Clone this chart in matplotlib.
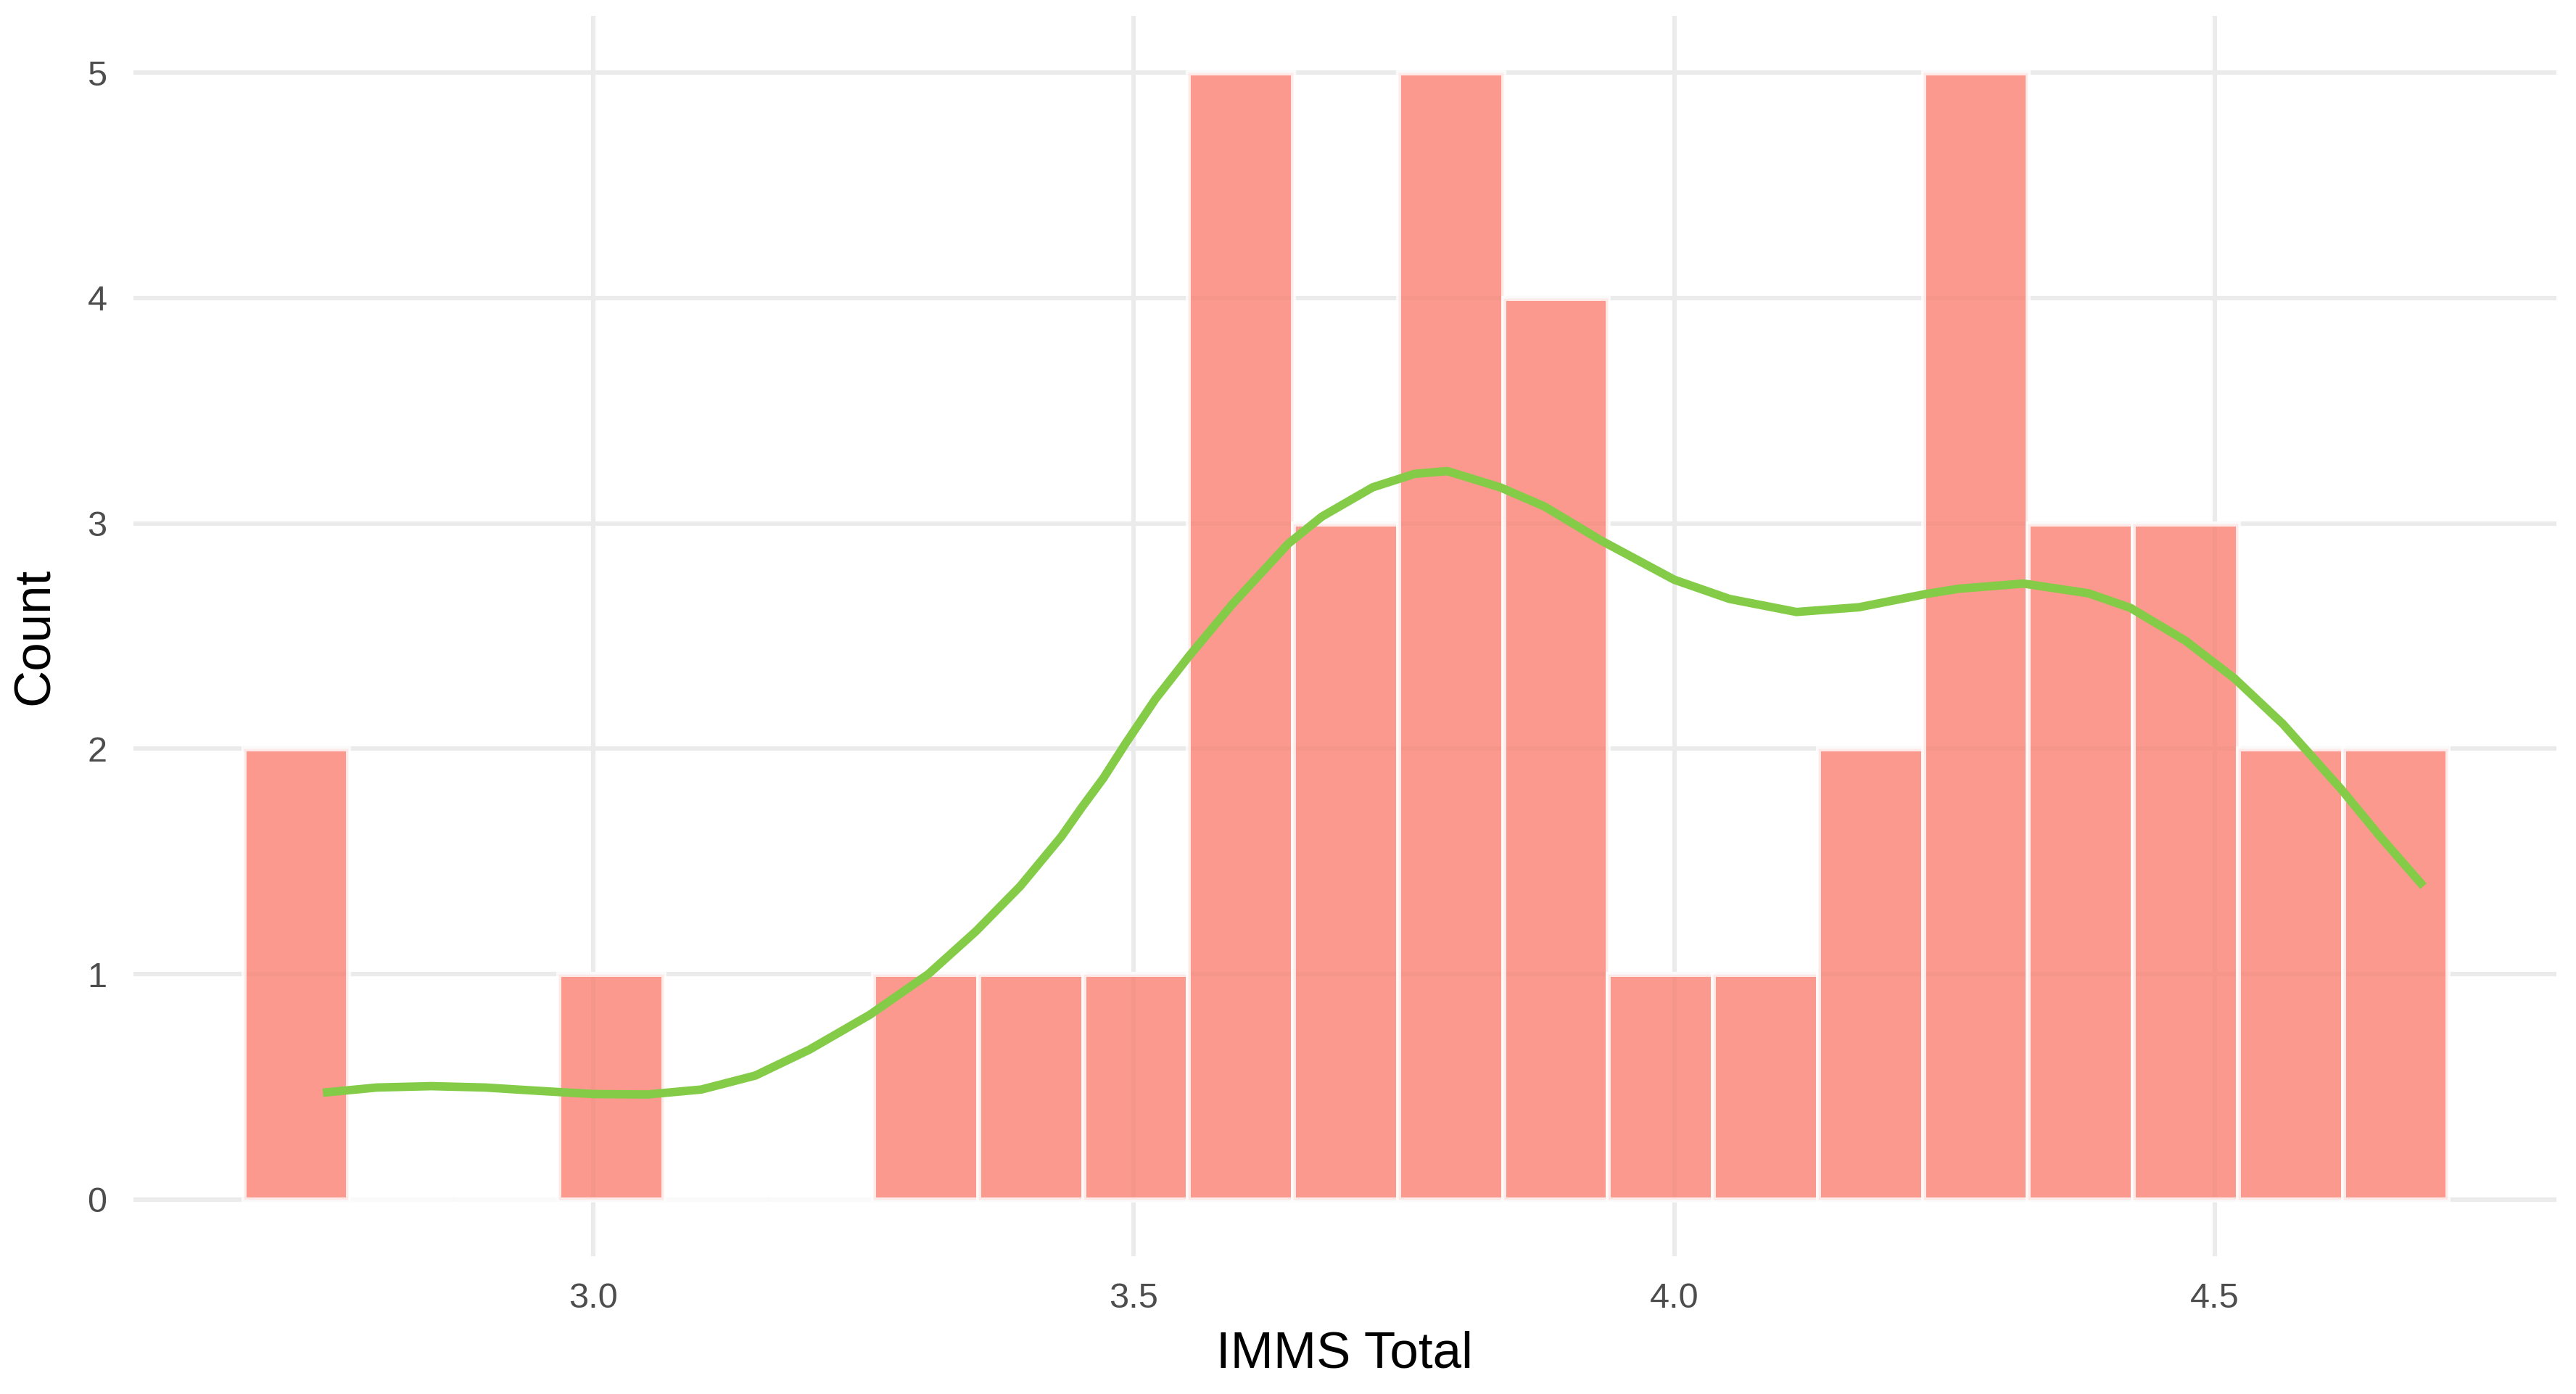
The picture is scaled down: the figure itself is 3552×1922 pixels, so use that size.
import numpy as np
import matplotlib
matplotlib.use("Agg")
import matplotlib.pyplot as plt

plt.rcParams['font.family'] = ['Liberation Sans', 'DejaVu Sans']

# histogram counts, 21 equal bins
counts = [2, 0, 0, 1, 0, 0, 1, 1, 1, 5, 3, 5, 4, 1, 1, 2, 5, 3, 3, 2, 2]
bin_start = 2.6765
bin_width = 0.0971

# density curve (scaled to counts)
curve_x = [2.750, 2.800, 2.850, 2.900, 2.950, 3.000, 3.050, 3.100, 3.150, 3.200,
           3.256, 3.310, 3.354, 3.395, 3.433, 3.452, 3.472, 3.492, 3.520, 3.551,
           3.591, 3.643, 3.674, 3.721, 3.760, 3.790, 3.839, 3.880, 3.932, 4.000,
           4.051, 4.113, 4.171, 4.233, 4.263, 4.323, 4.383, 4.422, 4.473, 4.518,
           4.563, 4.617, 4.653, 4.693]
curve_y = [0.474, 0.497, 0.503, 0.497, 0.482, 0.468, 0.466, 0.488, 0.550, 0.665,
           0.820, 1.000, 1.190, 1.390, 1.610, 1.740, 1.870, 2.020, 2.220, 2.410,
           2.640, 2.910, 3.030, 3.160, 3.220, 3.232, 3.160, 3.075, 2.925, 2.750,
           2.665, 2.607, 2.628, 2.687, 2.710, 2.733, 2.690, 2.625, 2.479, 2.313,
           2.110, 1.820, 1.610, 1.390]

x_ticks = [3.0, 3.5, 4.0, 4.5]
x_labels = ['3.0', '3.5', '4.0', '4.5']
y_ticks = [0, 1, 2, 3, 4, 5]

fig = plt.figure(figsize=(17.76, 9.61), dpi=200)
ax = fig.add_axes([0.0517, 0.0991, 0.9407, 0.8892])

lefts = bin_start + bin_width * np.arange(len(counts))
ax.bar(lefts, counts, width=bin_width, align='edge', color='salmon', alpha=0.8,
       edgecolor='white', linewidth=2.5, zorder=2)

ax.plot(curve_x, curve_y, color='#84CC47', linewidth=4.2, zorder=3,
        solid_capstyle='butt', solid_joinstyle='round')

ax.set_xlim(2.5745, 4.816)
ax.set_ylim(-0.25, 5.25)
ax.set_xticks(x_ticks)
ax.set_xticklabels(x_labels)
ax.set_yticks(y_ticks)

ax.grid(True, color='#EBEBEB', linewidth=2.2, zorder=0)
ax.set_axisbelow(True)
for s in ax.spines.values():
    s.set_visible(False)
ax.tick_params(length=0, labelsize=17.5, labelcolor='#4D4D4D', pad=13)

ax.set_xlabel('IMMS Total', fontsize=25.5, color='black', labelpad=8)
ax.set_ylabel('Count', fontsize=25.5, color='black', labelpad=14)

fig.savefig('out.png', dpi=200, facecolor='white')
